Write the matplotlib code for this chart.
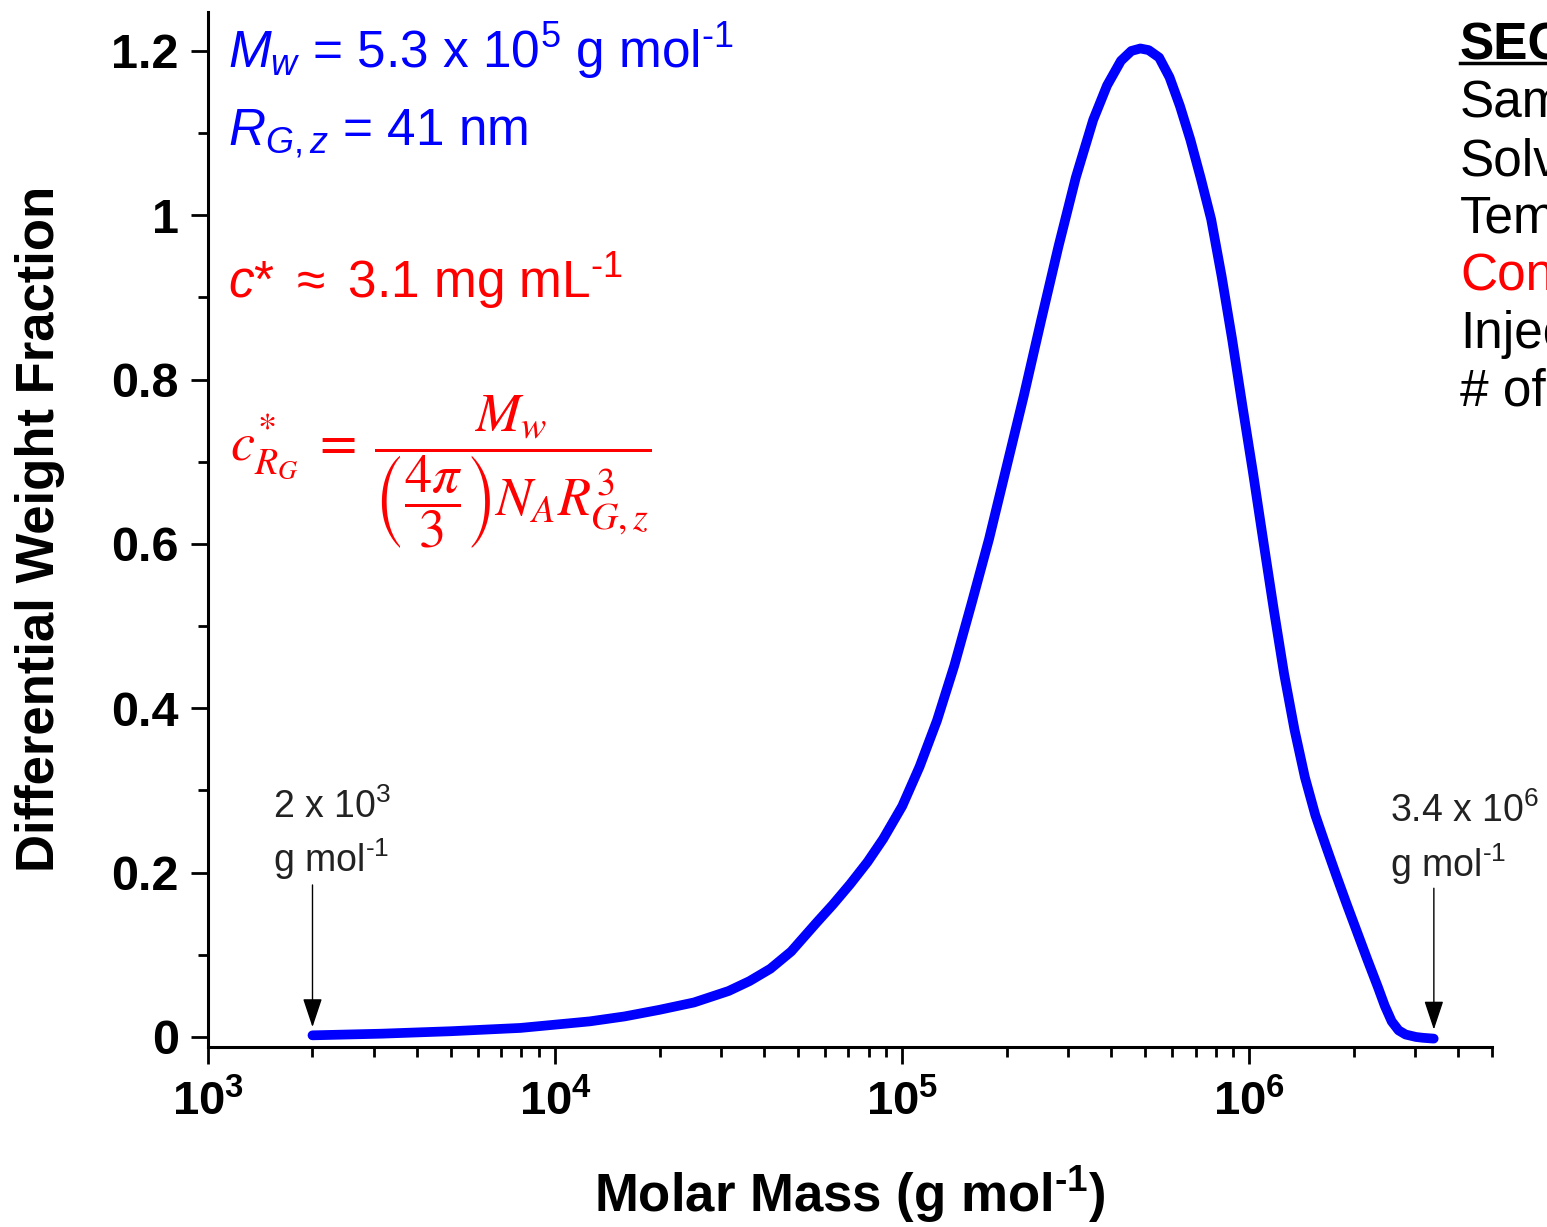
import numpy as np
import matplotlib.pyplot as plt
from matplotlib.lines import Line2D
from matplotlib.ticker import FixedLocator

# fonts: Arial-like everywhere, mathtext follows the same family
plt.rcParams['font.family'] = ['Liberation Sans', 'DejaVu Sans']
plt.rcParams['mathtext.fontset'] = 'custom'
plt.rcParams['mathtext.rm'] = 'Liberation Sans'
plt.rcParams['mathtext.it'] = 'Liberation Sans:italic'
plt.rcParams['mathtext.bf'] = 'Liberation Sans:bold'

# data (log10 of molar mass, differential weight fraction)
log_mass = [3.301, 3.5, 3.7, 3.9, 4.0, 4.1, 4.2, 4.3, 4.4, 4.5,
            4.56, 4.62, 4.68, 4.755, 4.80, 4.85, 4.90, 4.945, 5.00, 5.05,
            5.10, 5.15, 5.20, 5.25, 5.30, 5.35, 5.40, 5.45, 5.50, 5.55,
            5.59, 5.63, 5.66, 5.686, 5.71, 5.74, 5.77, 5.80, 5.83, 5.86,
            5.89, 5.92, 5.95, 5.98, 6.01, 6.04, 6.07, 6.10, 6.13, 6.16,
            6.19, 6.22, 6.25, 6.28, 6.31, 6.34, 6.37, 6.39, 6.41, 6.43,
            6.45, 6.48, 6.50, 6.531]
weight_frac = [0.002, 0.004, 0.007, 0.011, 0.015, 0.019, 0.025, 0.033, 0.042, 0.056,
               0.068, 0.083, 0.104, 0.140, 0.161, 0.186, 0.213, 0.241, 0.281, 0.329,
               0.385, 0.452, 0.528, 0.606, 0.693, 0.780, 0.872, 0.962, 1.046, 1.116,
               1.158, 1.188, 1.200, 1.203, 1.201, 1.192, 1.168, 1.133, 1.092, 1.045,
               0.995, 0.926, 0.850, 0.768, 0.688, 0.604, 0.521, 0.442, 0.374, 0.316,
               0.270, 0.233, 0.197, 0.162, 0.128, 0.094, 0.061, 0.038, 0.019, 0.008,
               0.003, 0.000, -0.001, -0.002]

x_ticks = [1e3, 1e4, 1e5, 1e6]
x_ticklabels = [r'$\mathbf{10^{3}}$', r'$\mathbf{10^{4}}$',
                r'$\mathbf{10^{5}}$', r'$\mathbf{10^{6}}$']
y_ticks = [0, 0.2, 0.4, 0.6, 0.8, 1.0, 1.2]
y_ticklabels = ['0', '0.2', '0.4', '0.6', '0.8', '1', '1.2']
y_minor = [0.1, 0.3, 0.5, 0.7, 0.9, 1.1]

low_end = 2e3
high_end = 3.4e6

sec_lines = ['Sam', 'Solv', 'Tem', 'Con', 'Injec', '# of']
sec_colors = ['black', 'black', 'black', 'red', 'black', 'black']

HY = '\u2010'  # short hyphen for the "-1" exponents
inv = '$^{' + HY + '1}$'
inv_bf = '$^{\\mathbf{' + HY + '1}}$'

W, H = 1547, 1227
fig = plt.figure(figsize=(W / 100, H / 100), dpi=100)
ax = fig.add_axes([208 / W, 180 / H, 1284 / W, 1035 / H])

molar_mass = 10 ** np.array(log_mass)
ax.plot(molar_mass, weight_frac, color='#0000ff', lw=7, solid_capstyle='round',
        solid_joinstyle='round')

ax.set_xscale('log')
ax.set_xlim(1e3, 5e6)
ax.set_ylim(-0.0122, 1.2474)

for s in ['top', 'right']:
    ax.spines[s].set_visible(False)
for s in ['left', 'bottom']:
    ax.spines[s].set_linewidth(2.2)

ax.set_xticks(x_ticks)
ax.set_xticklabels(x_ticklabels, fontsize=34)
ax.set_yticks(y_ticks)
ax.set_yticklabels(y_ticklabels, fontsize=35, fontweight='bold')
ax.yaxis.set_minor_locator(FixedLocator(y_minor))
ax.tick_params(which='major', length=12, width=2, direction='out')
ax.tick_params(which='minor', length=7, width=2, direction='out')
ax.tick_params(axis='y', which='major', pad=9)
ax.tick_params(axis='x', which='major', pad=12)

# axis titles
fig.text(40 / W, 1 - 529 / H, 'Differential Weight Fraction', rotation=90,
         ha='center', va='center', fontsize=38, fontweight='bold')
fig.text(850 / W, 1 - 1195 / H, 'Molar Mass (g mol' + inv_bf + ')',
         ha='center', va='center', fontsize=38, fontweight='bold')

# blue / red annotations
fig.text(228 / W, 1 - 68 / H, r'$\mathit{M}_{\mathit{w}}$ = 5.3 x 10$^{5}$ g mol' + inv,
         color='#0000ff', fontsize=37, va='baseline')
fig.text(228 / W, 1 - 145 / H, r'$\mathit{R}_{\mathit{G,z}}$ = 41 nm',
         color='#0000ff', fontsize=37, va='baseline')
fig.text(228 / W, 1 - 298 / H, r'$\mathit{c}$* $\approx$ 3.1 mg mL' + inv,
         color='red', fontsize=37, va='baseline')
fig.text(230 / W, 1 - 472 / H,
         r'$c^{*}_{R_G}\;=\;\dfrac{M_w}{\left(\dfrac{4\pi}{3}\right) N_A R^{3}_{G,z}}$',
         color='red', fontsize=39, va='center', math_fontfamily='stix')

# SEC block on the right (cut by the figure edge)
fig.text(1460 / W, 1 - 60 / H, 'SEC', fontsize=37, fontweight='bold', va='baseline')
fig.add_artist(Line2D([1460 / W, 1.0], [1 - 63 / H, 1 - 63 / H], color='black',
                      lw=2.5, transform=fig.transFigure))
for i, (t, c) in enumerate(zip(sec_lines, sec_colors)):
    fig.text(1460 / W, 1 - (118 + 57.5 * i) / H, t, fontsize=37, color=c, va='baseline')

# range arrows
arrow = dict(arrowstyle='-|>,head_length=0.9,head_width=0.3', color='black', lw=1.0,
             shrinkA=0, shrinkB=0, mutation_scale=20)
ax.annotate('', xy=(low_end, 0.012), xytext=(low_end, 0.185), arrowprops=arrow)
ax.annotate('', xy=(high_end, 0.009), xytext=(high_end, 0.181), arrowprops=arrow)

fig.text(273 / W, 1 - 818 / H, r'2 x 10$^{3}$', fontsize=27, color='#222222', va='baseline')
fig.text(273 / W, 1 - 872 / H, 'g mol' + inv, fontsize=27, color='#222222', va='baseline')
fig.text(1390 / W, 1 - 822 / H, r'3.4 x 10$^{6}$', fontsize=27, color='#222222', va='baseline')
fig.text(1390 / W, 1 - 877 / H, 'g mol' + inv, fontsize=27, color='#222222', va='baseline')

fig.savefig('out.png', dpi=100)
